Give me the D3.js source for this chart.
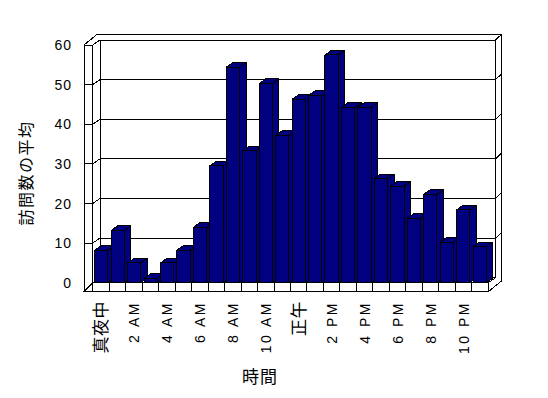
<!DOCTYPE html>
<html>
<head>
<meta charset="utf-8">
<script src="https://cdn.jsdelivr.net/npm/d3@7"></script>
<style>
  html, body { margin: 0; padding: 0; background: #fff; }
  svg text { fill: #000; }
</style>
</head>
<body>
<div id="chart"></div>
<script>
// hourly categories, one bar each
const hours = d3.range(24).map(h => "h" + h);
const hourLabels = ["真夜中", "", "2 AM", "", "4 AM", "", "6 AM", "", "8 AM", "", "10 AM", "",
                    "正午", "", "2 PM", "", "4 PM", "", "6 PM", "", "8 PM", "", "10 PM", ""];
const visits = [8.2, 13.2, 5, 1.1, 5, 8.2, 14, 29.5, 54.4, 33.3, 50.3, 37.2,
                46.3, 47.3, 57.5, 44.3, 44.3, 26.3, 24.4, 16.3, 22.3, 10.2, 18.4, 9.1];
const yTicks = [0, 10, 20, 30, 40, 50, 60];
const yTitle = "訪問数の平均";
const xTitle = "時間";

const W = 548, H = 398;
const svg = d3.select("#chart").append("svg")
  .attr("width", W).attr("height", H)
  .style("display", "block");

// front plane scales
const x = d3.scaleBand().domain(hours).range([92.7, 488.3]);
const xBar = d3.scaleBand().domain(hours).range([92.7, 488.3]).paddingInner(0.19).paddingOuter(0.12);
const y = d3.scaleLinear().domain([0, 60]).range([282.7, 45]);

// oblique depth offsets: inner wall, outer slab, bar depth
const dIn = [7.3, -5], dOut = [13.5, -11], dBar = [6.5, -4.5];
const wallX = 84, floorH = 9;
const x0 = x.range()[0], x1 = x.range()[1];
const yb = y(0), yt = y(60);

const g = svg.append("g")
  .attr("fill", "none").attr("stroke", "#000").attr("stroke-width", 1)
  .attr("shape-rendering", "crispEdges");

const line = (pts) => "M" + pts.map(p => p.join(",")).join("L");
const poly = (pts) => line(pts) + "Z";

// white slab body
g.append("path")
  .attr("d", poly([[wallX, yt], [wallX + dOut[0], yt + dOut[1]], [x1 + dOut[0], yt + dOut[1]],
                   [x1 + dOut[0], yb + floorH + dOut[1]], [x1, yb + floorH], [wallX, yb + floorH]]))
  .attr("fill", "#fff").attr("stroke", "none");

// back wall inner face
g.append("path")
  .attr("d", poly([[x0 + dIn[0], yt + dIn[1]], [x1 + dIn[0], yt + dIn[1]],
                   [x1 + dIn[0], yb + dIn[1]], [x0 + dIn[0], yb + dIn[1]]]));

// gridlines on back wall, left wall and ticks on the slab edges
yTicks.filter(v => v > 0 && v < 60).forEach(v => {
  const yy = y(v);
  g.append("path").attr("d", line([[wallX, yy], [x0, yy], [x0 + dIn[0], yy + dIn[1]], [x1 + dIn[0], yy + dIn[1]]]));
  g.append("path").attr("d", line([[x1 + dIn[0], yy + dIn[1]], [x1 + dOut[0], yy + dOut[1]]]))
    .attr("shape-rendering", null);
});

// left wall
g.append("path").attr("d", line([[wallX, yb + floorH], [wallX, yt], [x0, yt], [x0, yb]]));
g.append("path").attr("d", line([[wallX, yt], [wallX + dOut[0], yt + dOut[1]], [x1 + dOut[0], yt + dOut[1]],
                                 [x1 + dOut[0], yb + floorH + dOut[1]]]));
g.append("path").attr("d", line([[x0, yt], [x0 + dIn[0], yt + dIn[1]]])).attr("shape-rendering", null);
g.append("path").attr("d", line([[x0, yb], [x0 + dIn[0], yb + dIn[1]]])).attr("shape-rendering", null);
g.append("path").attr("d", line([[x1 + dIn[0], yt + dIn[1]], [x1 + dOut[0], yt + dOut[1]]])).attr("shape-rendering", null);
g.append("path").attr("d", line([[wallX, yt], [wallX + dOut[0], yt + dOut[1]]])).attr("shape-rendering", null);

// floor slab
g.append("path").attr("d", poly([[wallX, yb + floorH], [x1, yb + floorH], [x1, yb], [x0, yb]]));
g.append("path").attr("d", line([[x1, yb + floorH], [x1 + dOut[0], yb + floorH + dOut[1]]])).attr("shape-rendering", null);
g.append("path").attr("d", line([[x1, yb], [x1 + dIn[0], yb + dIn[1]]])).attr("shape-rendering", null);
hours.forEach(h => {
  g.append("path").attr("d", line([[x(h), yb], [x(h), yb + floorH]]));
});

// bars, left to right so each one hides the side of the previous
const bars = g.append("g").attr("fill", "#000080").attr("stroke", "#000").attr("stroke-linejoin", "round");
hours.forEach((h, i) => {
  const bx = xBar(h), bw = xBar.bandwidth(), top = y(visits[i]);
  bars.append("path").attr("d", poly([[bx + bw, top], [bx + bw + dBar[0], top + dBar[1]],
                                      [bx + bw + dBar[0], yb + dBar[1]], [bx + bw, yb]]));
  bars.append("path").attr("d", poly([[bx, top], [bx + bw, top], [bx + bw + dBar[0], top + dBar[1]],
                                      [bx + dBar[0], top + dBar[1]]]));
  bars.append("rect").attr("x", bx).attr("y", top).attr("width", bw).attr("height", yb - top)
    .attr("shape-rendering", "crispEdges");
});

// y tick labels
svg.append("g").selectAll("text").data(yTicks).join("text")
  .attr("x", 72).attr("y", d => y(d)).attr("dy", "0.36em")
  .attr("text-anchor", "end")
  .style("font", "14px 'Liberation Sans', Arial, sans-serif")
  .style("letter-spacing", "1px")
  .text(d => d);

// x tick labels, rotated
const isCJK = s => /[^\x00-\x7f]/.test(s);
svg.append("g").selectAll("text").data(hours.filter((h, i) => hourLabels[i])).join("text")
  .attr("transform", h => `translate(${x(h) + x.bandwidth() / 2},301) rotate(-90)`)
  .attr("dy", "0.36em")
  .attr("text-anchor", "end")
  .style("font-family", "'Liberation Sans', 'Noto Sans CJK JP', sans-serif")
  .style("font-size", h => isCJK(hourLabels[hours.indexOf(h)]) ? "17px" : "14px")
  .style("letter-spacing", h => isCJK(hourLabels[hours.indexOf(h)]) ? "0.5px" : "2.5px")
  .text(h => hourLabels[hours.indexOf(h)]);

// axis titles
svg.append("text")
  .attr("transform", "translate(26,173) rotate(-90)")
  .attr("dy", "0.36em").attr("text-anchor", "middle")
  .style("font", "16px 'Noto Sans CJK JP', sans-serif")
  .style("letter-spacing", "1.5px")
  .text(yTitle);

svg.append("text")
  .attr("x", 260).attr("y", 377).attr("dy", "0.36em").attr("text-anchor", "middle")
  .style("font", "17px 'Noto Sans CJK JP', sans-serif")
  .style("letter-spacing", "1px")
  .text(xTitle);
</script>
</body>
</html>
